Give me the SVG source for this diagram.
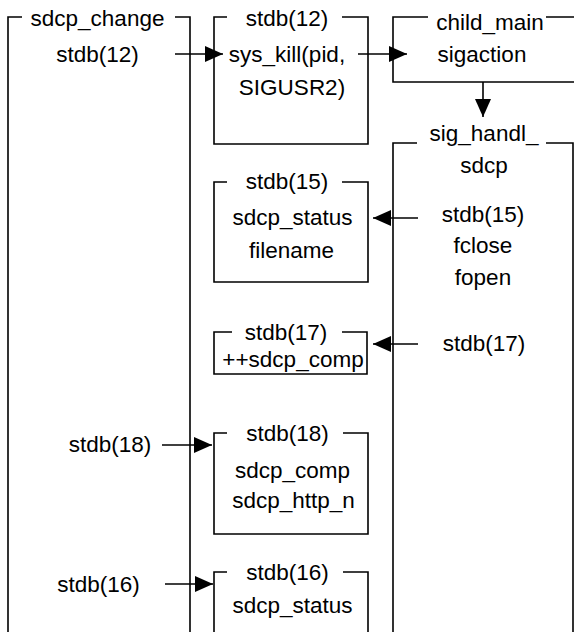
<svg xmlns="http://www.w3.org/2000/svg" width="574" height="632" viewBox="0 0 574 632">
<style>
.ln{fill:none;stroke:#000;stroke-width:1.6}
.t{font-family:"Liberation Sans",Arial,sans-serif;font-size:22.5px;fill:#000;text-anchor:middle}
.c{fill:none;stroke:#000;stroke-width:1.6;marker-end:url(#ah)}
</style>
<defs>
<marker id="ah" viewBox="0 0 18 16" refX="18" refY="8" markerWidth="18" markerHeight="16" markerUnits="userSpaceOnUse" orient="auto">
<path d="M0,0 L18,8 L0,16 z" fill="#000"/>
</marker>
</defs>
<rect width="574" height="632" fill="#fff"/>
<g id="sdcp_change">
<path class="ln" d="M22,17 H8 V632 M175,17 H190 V632"/>
<text class="t" x="97.5" y="26">sdcp_change</text>
</g>
<g id="lbl_stdb12"><text class="t" x="97.5" y="62">stdb(12)</text></g>
<g id="box_kill">
<path class="ln" d="M227,17 H214 V144 H368 V17 H342"/>
<text class="t" x="287" y="26">stdb(12)</text>
<text class="t" x="287" y="62">sys_kill(pid,</text>
<text class="t" x="292" y="95">SIGUSR2)</text>
</g>
<g id="child_main">
<path class="ln" d="M428,17 H393 V82 H574 M546,17 H574"/>
<text class="t" x="490" y="30">child_main</text>
<text class="t" x="482" y="62">sigaction</text>
</g>
<g id="sig_handl">
<path class="ln" d="M417,143 H393 V632 M546,143 H573 V632"/>
<text class="t" x="484" y="141">sig_handl_</text>
<text class="t" x="484" y="173">sdcp</text>
<text class="t" x="483" y="222">stdb(15)</text>
<text class="t" x="483" y="253">fclose</text>
<text class="t" x="483" y="285">fopen</text>
<text class="t" x="484" y="351">stdb(17)</text>
</g>
<g id="box15">
<path class="ln" d="M227,182 H214 V282 H368 V182 H342"/>
<text class="t" x="287" y="189">stdb(15)</text>
<text class="t" x="292.5" y="225">sdcp_status</text>
<text class="t" x="291.5" y="258">filename</text>
</g>
<g id="box17">
<path class="ln" d="M232,332 H214 V374 H367 V332 H342"/>
<text class="t" x="286" y="340">stdb(17)</text>
<text class="t" x="293" y="367">++sdcp_comp</text>
</g>
<g id="lbl_stdb18"><text class="t" x="110" y="452">stdb(18)</text></g>
<g id="box18">
<path class="ln" d="M227,433 H214 V534 H368 V433 H343"/>
<text class="t" x="287.5" y="441">stdb(18)</text>
<text class="t" x="292.5" y="478">sdcp_comp</text>
<text class="t" x="293.5" y="508">sdcp_http_n</text>
</g>
<g id="lbl_stdb16"><text class="t" x="98.5" y="592">stdb(16)</text></g>
<g id="box16">
<path class="ln" d="M227,572 H214 V632 M343,572 H368 V632"/>
<text class="t" x="287.5" y="580">stdb(16)</text>
<text class="t" x="292.5" y="613">sdcp_status</text>
</g>
<g id="connectors">
<line class="c" x1="175" y1="54" x2="223" y2="54"/>
<line class="c" x1="358" y1="54" x2="407" y2="54"/>
<line class="c" x1="483" y1="82" x2="483" y2="117"/>
<line class="c" x1="418" y1="218" x2="373" y2="218"/>
<line class="c" x1="418" y1="344" x2="373" y2="344"/>
<line class="c" x1="162" y1="445" x2="212" y2="445"/>
<line class="c" x1="165" y1="584" x2="213" y2="584"/>
</g>
</svg>
